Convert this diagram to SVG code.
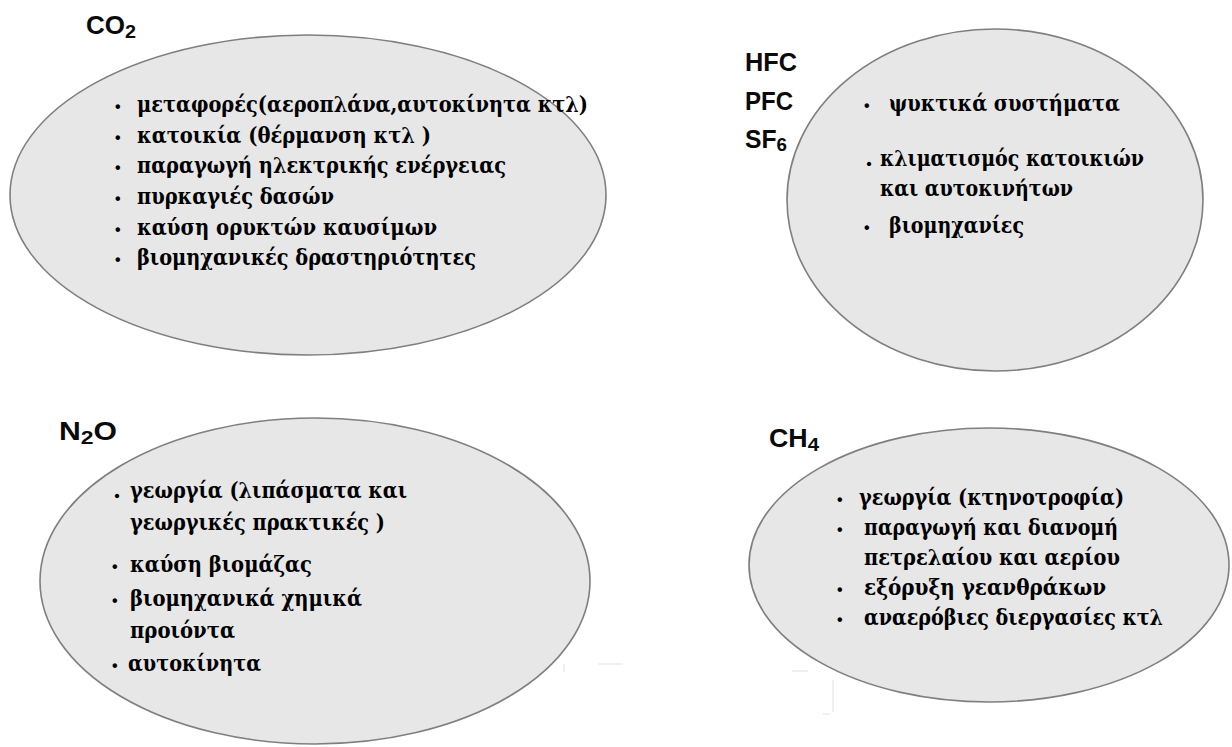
<svg xmlns="http://www.w3.org/2000/svg" width="1232" height="747" viewBox="0 0 1232 747">
<style>
.bg{fill:#ffffff}
.ell{fill:#e7e7e7;stroke:#7f7f7f;stroke-width:1.6}
.lbl{font-family:"Liberation Sans",Arial,sans-serif;font-weight:bold;font-size:25px;fill:#0a0a0a}
.sub{font-size:19px}
.t{font-family:"DejaVu Serif","Liberation Serif","Times New Roman",serif;font-weight:bold;font-size:23px;fill:#000}
.bul{font-family:"Liberation Sans","DejaVu Sans",sans-serif;font-size:16px}
.faint{stroke:#ececec;stroke-width:1.5;fill:none}
</style>
<rect class="bg" x="0" y="0" width="1232" height="747"/>

<g id="co2">
<ellipse class="ell" cx="308" cy="195" rx="298" ry="160"/>
<text class="lbl" x="86" y="34" textLength="50" lengthAdjust="spacingAndGlyphs">CO<tspan class="sub" dy="4">2</tspan></text>
<text class="t" y="112"><tspan class="bul" x="115">•</tspan></text>
<text class="t" y="112" x="137" textLength="451" lengthAdjust="spacingAndGlyphs">μεταφορές(αεροπλάνα,αυτοκίνητα κτλ)</text>
<text class="t" y="143"><tspan class="bul" x="115">•</tspan></text>
<text class="t" y="143" x="137" textLength="294" lengthAdjust="spacingAndGlyphs">κατοικία (θέρμανση κτλ )</text>
<text class="t" y="173"><tspan class="bul" x="115">•</tspan></text>
<text class="t" y="173" x="137" textLength="369" lengthAdjust="spacingAndGlyphs">παραγωγή ηλεκτρικής ενέργειας</text>
<text class="t" y="204"><tspan class="bul" x="115">•</tspan></text>
<text class="t" y="204" x="137" textLength="197" lengthAdjust="spacingAndGlyphs">πυρκαγιές δασών</text>
<text class="t" y="235"><tspan class="bul" x="115">•</tspan></text>
<text class="t" y="235" x="137" textLength="300" lengthAdjust="spacingAndGlyphs">καύση ορυκτών καυσίμων</text>
<text class="t" y="265"><tspan class="bul" x="115">•</tspan></text>
<text class="t" y="265" x="137" textLength="339" lengthAdjust="spacingAndGlyphs">βιομηχανικές δραστηριότητες</text>
</g>

<g id="hfc">
<ellipse class="ell" cx="995" cy="200" rx="208" ry="171"/>
<text class="lbl" x="745" y="71" textLength="52" lengthAdjust="spacingAndGlyphs">HFC</text>
<text class="lbl" x="745" y="110" textLength="48" lengthAdjust="spacingAndGlyphs">PFC</text>
<text class="lbl" x="745" y="148" textLength="42" lengthAdjust="spacingAndGlyphs">SF<tspan class="sub" dy="3">6</tspan></text>
<text class="t" y="111"><tspan class="bul" x="864">•</tspan></text>
<text class="t" y="111" x="889" textLength="231" lengthAdjust="spacingAndGlyphs">ψυκτικά συστήματα</text>
<text class="t" y="166" x="865">.</text>
<text class="t" y="166" x="880" textLength="264" lengthAdjust="spacingAndGlyphs">κλιματισμός κατοικιών</text>
<text class="t" y="196" x="880" textLength="193" lengthAdjust="spacingAndGlyphs">και αυτοκινήτων</text>
<text class="t" y="233"><tspan class="bul" x="864">•</tspan></text>
<text class="t" y="233" x="889" textLength="135" lengthAdjust="spacingAndGlyphs">βιομηχανίες</text>
</g>

<g id="n2o">
<ellipse class="ell" cx="315" cy="581" rx="275" ry="163"/>
<text class="lbl" x="59" y="440" textLength="58" lengthAdjust="spacingAndGlyphs">N<tspan class="sub" dy="4">2</tspan><tspan dy="-4">O</tspan></text>
<text class="t" y="498" x="113">.</text>
<text class="t" y="498" x="130" textLength="277" lengthAdjust="spacingAndGlyphs">γεωργία (λιπάσματα και</text>
<text class="t" y="530" x="130" textLength="255" lengthAdjust="spacingAndGlyphs">γεωργικές πρακτικές )</text>
<text class="t" y="572"><tspan class="bul" x="112">•</tspan></text>
<text class="t" y="572" x="130" textLength="182" lengthAdjust="spacingAndGlyphs">καύση βιομάζας</text>
<text class="t" y="606"><tspan class="bul" x="112">•</tspan></text>
<text class="t" y="606" x="130" textLength="232" lengthAdjust="spacingAndGlyphs">βιομηχανικά χημικά</text>
<text class="t" y="638" x="130" textLength="105" lengthAdjust="spacingAndGlyphs">προιόντα</text>
<text class="t" y="671"><tspan class="bul" x="112">•</tspan></text>
<text class="t" y="671" x="128" textLength="133" lengthAdjust="spacingAndGlyphs">αυτοκίνητα</text>
</g>

<g id="ch4">
<ellipse class="ell" cx="989" cy="565" rx="240" ry="137"/>
<text class="lbl" x="769" y="447" textLength="50" lengthAdjust="spacingAndGlyphs">CH<tspan class="sub" dy="4">4</tspan></text>
<text class="t" y="505"><tspan class="bul" x="837">•</tspan></text>
<text class="t" y="505" x="859" textLength="265" lengthAdjust="spacingAndGlyphs">γεωργία (κτηνοτροφία)</text>
<text class="t" y="535"><tspan class="bul" x="837">•</tspan></text>
<text class="t" y="535" x="864" textLength="254" lengthAdjust="spacingAndGlyphs">παραγωγή και διανομή</text>
<text class="t" y="565" x="864" textLength="256" lengthAdjust="spacingAndGlyphs">πετρελαίου και αερίου</text>
<text class="t" y="595"><tspan class="bul" x="837">•</tspan></text>
<text class="t" y="595" x="864" textLength="242" lengthAdjust="spacingAndGlyphs">εξόρυξη γεανθράκων</text>
<text class="t" y="625"><tspan class="bul" x="837">•</tspan></text>
<text class="t" y="625" x="864" textLength="299" lengthAdjust="spacingAndGlyphs">αναερόβιες διεργασίες κτλ</text>
</g>

<g id="marks">
<path class="faint" d="M564 672 V664 M598 664 H623 M792 671 H808 M823 714 H830 M833 680 V712"/>
</g>
</svg>
